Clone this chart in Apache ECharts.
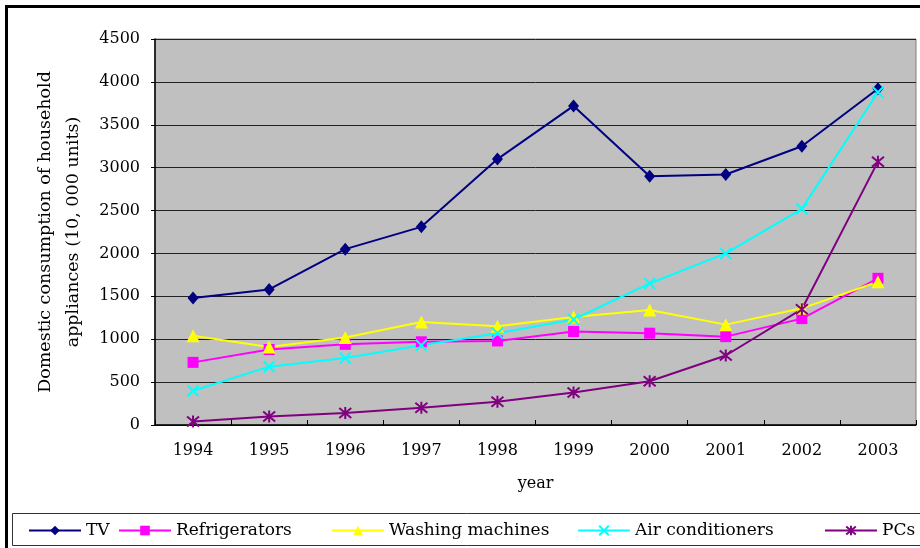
<!DOCTYPE html>
<html>
<head>
<meta charset="utf-8">
<script src="https://cdn.jsdelivr.net/npm/echarts@6/dist/echarts.min.js"></script>
<style>
  html, body { margin: 0; padding: 0; background: #fff; }
  #chart { width: 920px; height: 548px; }
</style>
</head>
<body>
<div id="chart"></div>
<script>
// Domestic consumption of household appliances, 1994-2003 (10,000 units)
const years = ['1994', '1995', '1996', '1997', '1998', '1999', '2000', '2001', '2002', '2003'];
const tv = [1480, 1580, 2050, 2310, 3100, 3720, 2900, 2920, 3250, 3920];
const refrigerators = [730, 880, 940, 970, 980, 1090, 1070, 1030, 1240, 1710];
const washingMachines = [1040, 910, 1020, 1200, 1150, 1260, 1340, 1170, 1360, 1670];
const airConditioners = [400, 680, 780, 930, 1070, 1230, 1650, 2000, 2520, 3880];
const pcs = [40, 100, 140, 200, 270, 380, 510, 810, 1350, 3070];

const FONT = '"DejaVu Serif", serif';

const SYM_X = 'path://M0,0L10,10M10,0L0,10';
const SYM_STAR = 'path://M0,0L10,10M10,0L0,10M5,-1L5,11';

function lineSeries(name, data, color, symbol, size, stroked) {
  return {
    name: name,
    type: 'line',
    data: data,
    symbol: symbol,
    symbolSize: size,
    lineStyle: { color: color, width: 2 },
    itemStyle: stroked
      ? { color: 'none', borderColor: color, borderWidth: 2 }
      : { color: color, borderWidth: 0 },
    emphasis: { disabled: true },
    z: 3
  };
}

const seriesList = [
  lineSeries('TV', tv, '#000080', 'diamond', [11, 13], false),
  lineSeries('Refrigerators', refrigerators, '#FF00FF', 'rect', 11, false),
  lineSeries('Washing machines', washingMachines, '#FFFF00', 'triangle', 13, false),
  lineSeries('Air conditioners', airConditioners, '#00FFFF', SYM_X, 11, true),
  lineSeries('PCs', pcs, '#800080', SYM_STAR, 12, true)
];

const legendLefts = [28, 118, 331, 577, 824];
const legends = seriesList.map(function (s, i) {
  return {
    data: [s.name],
    left: legendLefts[i],
    top: 522,
    padding: 0,
    itemWidth: 52,
    itemHeight: 12,
    selectedMode: false,
    textStyle: { fontFamily: FONT, fontSize: 17, color: '#000' }
  };
});

const chart = echarts.init(document.getElementById('chart'), null, { renderer: 'canvas' });
chart.setOption({
  animation: false,
  backgroundColor: '#fff',
  grid: {
    left: 155, top: 39, width: 761, height: 386,
    outerBoundsMode: 'none',
    containLabel: false,
    show: true, backgroundColor: '#C0C0C0',
    borderColor: '#808080', borderWidth: 1
  },
  legend: legends,
  xAxis: {
    type: 'category',
    data: years,
    boundaryGap: true,
    name: 'year',
    nameLocation: 'middle',
    nameGap: 51,
    nameTextStyle: { fontFamily: FONT, fontSize: 16, color: '#000' },
    axisLine: { lineStyle: { color: '#000', width: 1.5 } },
    axisTick: { show: true, inside: true, length: 5, lineStyle: { color: '#000' } },
    axisLabel: { fontFamily: FONT, fontSize: 16, color: '#000', margin: 18 },
    splitLine: { show: false }
  },
  yAxis: {
    type: 'value',
    min: 0,
    max: 4500,
    interval: 500,
    name: 'Domestic consumption of household\nappliances (10, 000 units)',
    nameLocation: 'middle',
    nameRotate: 90,
    nameGap: 68,
    nameTextStyle: { fontFamily: FONT, fontSize: 17.5, color: '#000', lineHeight: 28, align: 'center' },
    axisLine: { show: true, lineStyle: { color: '#000', width: 1.5 } },
    axisTick: { show: true, length: 4, lineStyle: { color: '#000' } },
    axisLabel: {
      fontFamily: FONT, fontSize: 16, color: '#000', margin: 15,
      formatter: function (v) { return String(v); }
    },
    splitLine: { show: true, lineStyle: { color: '#222', width: 1 } }
  },
  graphic: [
    {
      type: 'rect',
      silent: true,
      shape: { x: 6.5, y: 6.5, width: 930, height: 560 },
      style: { fill: 'none', stroke: '#000', lineWidth: 3 }
    },
    {
      type: 'rect',
      silent: true,
      shape: { x: 12.5, y: 513.5, width: 920, height: 32 },
      style: { fill: '#fff', stroke: '#333', lineWidth: 1 },
      z: -1
    }
  ],
  series: seriesList
});
</script>
</body>
</html>
